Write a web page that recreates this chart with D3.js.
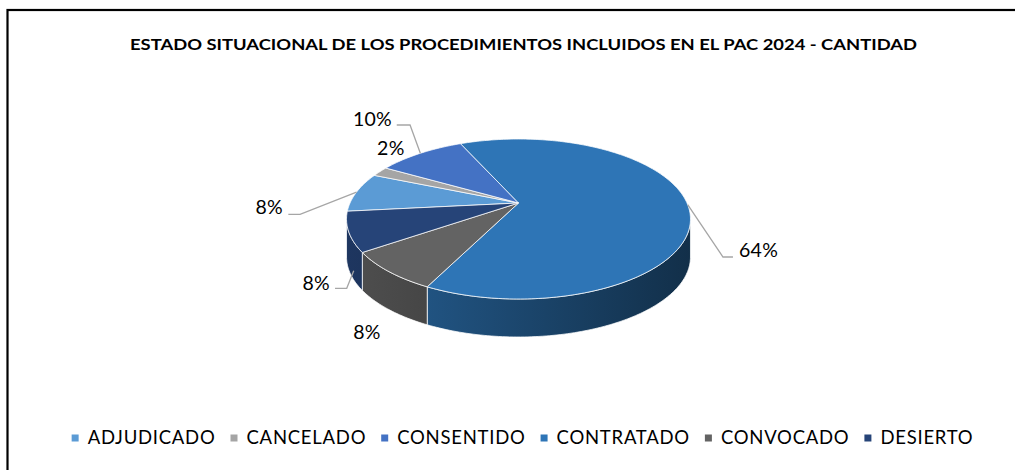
<!DOCTYPE html>
<html><head><meta charset="utf-8">
<script src="https://cdn.jsdelivr.net/npm/d3@7"></script>
<style>body{margin:0;background:#fff} svg{display:block}</style>
</head><body>
<svg id="chart" width="1015" height="470"></svg>
<script>
// ---- data ----
const categories = ["ADJUDICADO","CANCELADO","CONSENTIDO","CONTRATADO","CONVOCADO","DESIERTO"];
const counts = [4, 1, 5, 32, 4, 4];
const colors = ["#5B9BD5","#A5A5A5","#4472C4","#2E75B6","#636363","#264478"];
const titleText = "ESTADO SITUACIONAL DE LOS PROCEDIMIENTOS INCLUIDOS EN EL PAC 2024 - CANTIDAD";

// ---- layout ----
const W = 1015, H = 470;
const cx = 518.5, cy = 203, R = 168.5, B = 76.8, k = 0.2, T = 38;
const startDeg = 264;
const FONT = "Lato, 'Open Sans', sans-serif";

const svg = d3.select("#chart");
svg.append("rect").attr("width", W).attr("height", H).attr("fill", "#fff");
svg.append("rect").attr("x", 7.5).attr("y", 10).attr("width", 1040).attr("height", 500)
  .attr("fill", "none").attr("stroke", "#000").attr("stroke-width", 2.2);

svg.append("text").attr("x", 523.5).attr("y", 44).attr("dy", "0.35em")
  .attr("text-anchor", "middle").attr("font-family", FONT).attr("font-weight", 700)
  .attr("font-size", 16).attr("fill", "#000").attr("textLength", 787)
  .attr("lengthAdjust", "spacingAndGlyphs").text(titleText);

const total = d3.sum(counts);
const pct = d3.format(".0%");
const start = startDeg * Math.PI / 180;
const pie = d3.pie().sort(null).startAngle(start).endAngle(start + 2 * Math.PI);
const arcs = pie(counts);

function proj(a, drop) {
  const s = 1 / (1 + k * Math.cos(a));
  return [cx + R * Math.sin(a) * s, cy - B * Math.cos(a) * s + (drop || 0)];
}
function arcPts(a0, a1, drop) {
  const n = Math.max(2, Math.ceil(Math.abs(a1 - a0) / (Math.PI / 180)));
  const pts = [];
  for (let i = 0; i <= n; i++) pts.push(proj(a0 + (a1 - a0) * i / n, drop));
  return pts;
}
const line = d3.line();

// gradients for walls
const defs = svg.append("defs");
colors.forEach((c, i) => {
  const g = defs.append("linearGradient").attr("id", "wall" + i)
    .attr("gradientUnits", "userSpaceOnUse").attr("x1", 346).attr("x2", 692).attr("y1", 0).attr("y2", 0);
  const base = d3.rgb(c);
  const f = (t) => d3.rgb(base.r * t, base.g * t, base.b * t).toString();
  g.append("stop").attr("offset", 0).attr("stop-color", f(0.80));
  g.append("stop").attr("offset", 1).attr("stop-color", f(0.40));
});

// visible wall range
const aL = Math.acos(-k), aR = 2 * Math.PI - Math.acos(-k);
const walls = svg.append("g");
arcs.forEach((d, i) => {
  [-2, 0, 2, 4].forEach(m => {
    const lo = Math.max(d.startAngle, aL + m * Math.PI);
    const hi = Math.min(d.endAngle, aR + m * Math.PI);
    if (lo < hi) {
      const top = arcPts(lo, hi, 0);
      const bot = arcPts(hi, lo, T);
      walls.append("path").attr("d", line(top.concat(bot)) + "Z")
        .attr("fill", `url(#wall${i})`).attr("stroke", "rgba(255,255,255,0.75)")
        .attr("stroke-width", 1).attr("stroke-linejoin", "round");
    }
  });
});

// top faces
const tops = svg.append("g");
arcs.forEach((d, i) => {
  const pts = [[cx, cy]].concat(arcPts(d.startAngle, d.endAngle, 0));
  tops.append("path").attr("d", line(pts) + "Z").attr("fill", colors[i])
    .attr("stroke", "rgba(255,255,255,0.75)").attr("stroke-width", 1).attr("stroke-linejoin", "round");
});

// labels (offsets relative to anchor point on slice)
const labelLayout = [
  {anchor: "top", leader: [[0,0],[-56.5,22.2],[-68.2,22.2]], text: [-73.5, 15], align: "end"},
  {anchor: "top", leader: null, text: [11, -23.6], align: "middle"},
  {anchor: "top", leader: [[0,0],[-10.3,-28.3],[-23.6,-28.3]], text: [-28.3, -34.3], align: "end"},
  {anchor: "top", leader: [[0,0],[35.3,52.4],[45.3,52.4]], text: [51.3, 45.4], align: "start"},
  {anchor: "bottom", leader: null, text: [-21.8, 22.5], align: "middle"},
  {anchor: "bottom", leader: [[5,1],[-2,18.5],[-13.7,18.5]], text: [-18.7, 13.2], align: "end"}
];
const labels = svg.append("g");
arcs.forEach((d, i) => {
  const L = labelLayout[i];
  const mid = (d.startAngle + d.endAngle) / 2;
  const p = proj(mid, L.anchor === "bottom" ? T : 0);
  if (L.leader) {
    labels.append("path").attr("d", line(L.leader.map(o => [p[0] + o[0], p[1] + o[1]])))
      .attr("fill", "none").attr("stroke", "#A6A6A6").attr("stroke-width", 1.3);
  }
  labels.append("text").attr("x", p[0] + L.text[0]).attr("y", p[1] + L.text[1]).attr("dy", "0.35em")
    .attr("text-anchor", L.align).attr("font-family", FONT).attr("font-size", 19.5).attr("fill", "#000")
    .attr("letter-spacing", 0.3).text(pct(d.value / total));
});

// legend
const leg = svg.append("g");
const items = [];
let xCur = 0;
categories.forEach((c, i) => {
  const g = leg.append("g");
  g.append("rect").attr("x", 0).attr("y", -3.5).attr("width", 7).attr("height", 7).attr("fill", colors[i]);
  const t = g.append("text").attr("x", 16).attr("dy", "0.35em").attr("font-family", FONT)
    .attr("font-size", 18.5).attr("letter-spacing", 0.75).attr("fill", "#000").text(c);
  const w = 16 + t.node().getComputedTextLength();
  items.push({g, x: xCur});
  xCur += w + 15;
});
const legW = xCur - 15;
const legX0 = 522.5 - legW / 2;
items.forEach(it => it.g.attr("transform", `translate(${legX0 + it.x},438)`));
</script>
</body></html>
